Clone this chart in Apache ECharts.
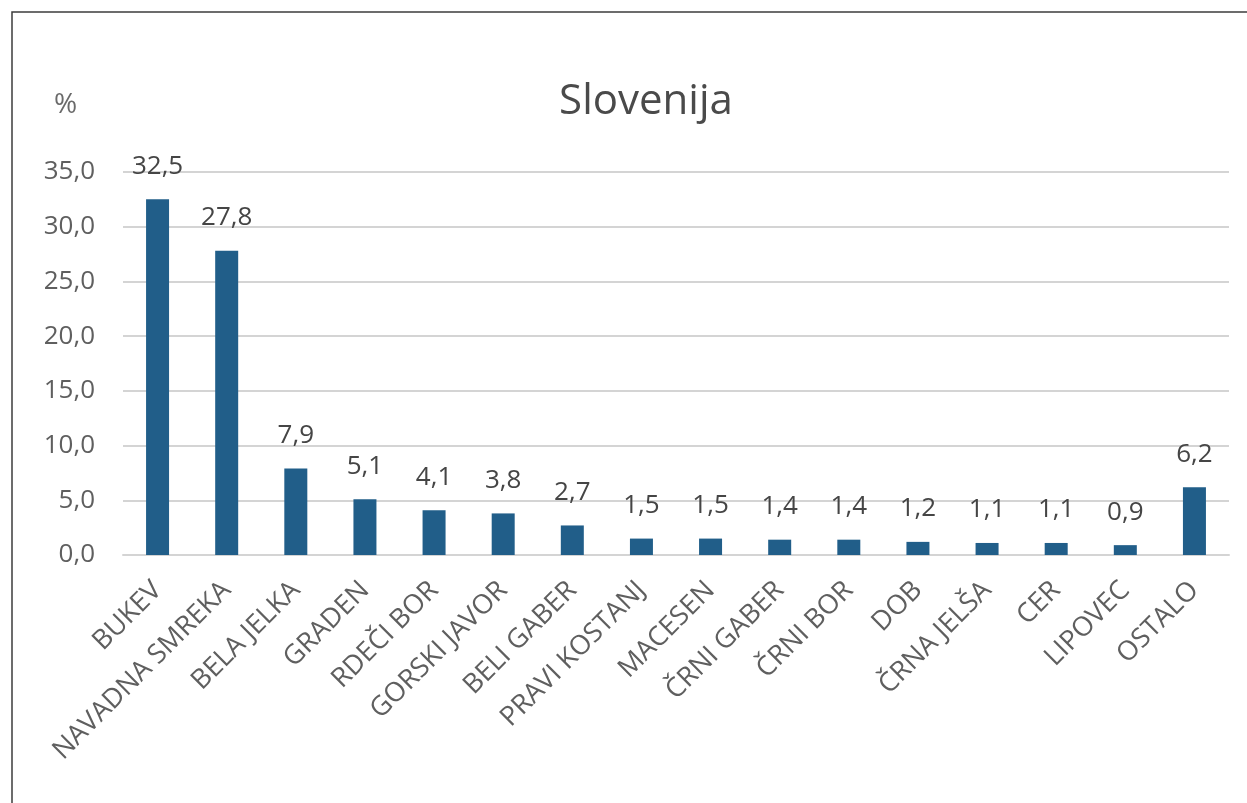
<!DOCTYPE html>
<html>
<head>
<meta charset="utf-8">
<script src="https://cdn.jsdelivr.net/npm/echarts@6/dist/echarts.min.js"></script>
<style>
  html, body { margin: 0; padding: 0; background: #ffffff; }
  #chart { width: 1247px; height: 803px; }
</style>
</head>
<body>
<div id="chart"></div>
<script>
// Tree species share of growing stock in Slovenia (%)
const species = ['BUKEV', 'NAVADNA SMREKA', 'BELA JELKA', 'GRADEN', 'RDEČI BOR', 'GORSKI JAVOR',
  'BELI GABER', 'PRAVI KOSTANJ', 'MACESEN', 'ČRNI GABER', 'ČRNI BOR', 'DOB', 'ČRNA JELŠA',
  'CER', 'LIPOVEC', 'OSTALO'];
const shares = [32.5, 27.8, 7.9, 5.1, 4.1, 3.8, 2.7, 1.5, 1.5, 1.4, 1.4, 1.2, 1.1, 1.1, 0.9, 6.2];
const titleText = 'Slovenija';
const unitText = '%';

const fmt = v => Number(v).toFixed(1).replace('.', ',');
const FONT = '"Open Sans", "Liberation Sans", sans-serif';

const chart = echarts.init(document.getElementById('chart'));
chart.setOption({
  animation: false,
  backgroundColor: '#ffffff',
  title: {
    text: titleText,
    left: 641,
    top: 76,
    textAlign: 'center',
    textStyle: { fontFamily: FONT, fontSize: 42, fontWeight: 'normal', color: '#4a4a4a' }
  },
  graphic: [
    {
      type: 'rect',
      shape: { x: 12, y: 12, width: 1400, height: 1000 },
      style: { fill: 'none', stroke: '#3c3c3c', lineWidth: 1.5 },
      z: 100
    },
    {
      type: 'text',
      left: 54,
      top: 91,
      style: { text: unitText, fontFamily: FONT, fontSize: 28, fill: '#6a6a6a' }
    }
  ],
  grid: { left: 123, right: 18, top: 172, bottom: 248, containLabel: false },
  xAxis: {
    type: 'category',
    data: species,
    axisLine: { show: true, lineStyle: { color: '#d4d4d4', width: 2 } },
    axisTick: { show: false },
    axisLabel: {
      rotate: 45,
      interval: 0,
      margin: 31,
      fontFamily: FONT,
      fontSize: 27,
      color: '#5f5f5f'
    }
  },
  yAxis: {
    type: 'value',
    min: 0,
    max: 35,
    interval: 5,
    axisLine: { show: false },
    axisTick: { show: false },
    splitLine: { lineStyle: { color: '#d4d4d4', width: 2 } },
    axisLabel: {
      margin: 28,
      fontFamily: FONT,
      fontSize: 26,
      color: '#5f5f5f',
      formatter: v => fmt(v)
    }
  },
  series: [{
    type: 'bar',
    data: shares,
    barWidth: 23,
    itemStyle: { color: '#215e89' },
    label: {
      show: true,
      position: 'top',
      distance: 20,
      fontFamily: FONT,
      fontSize: 26,
      color: '#454545',
      formatter: p => fmt(p.value)
    }
  }]
});
</script>
</body>
</html>
